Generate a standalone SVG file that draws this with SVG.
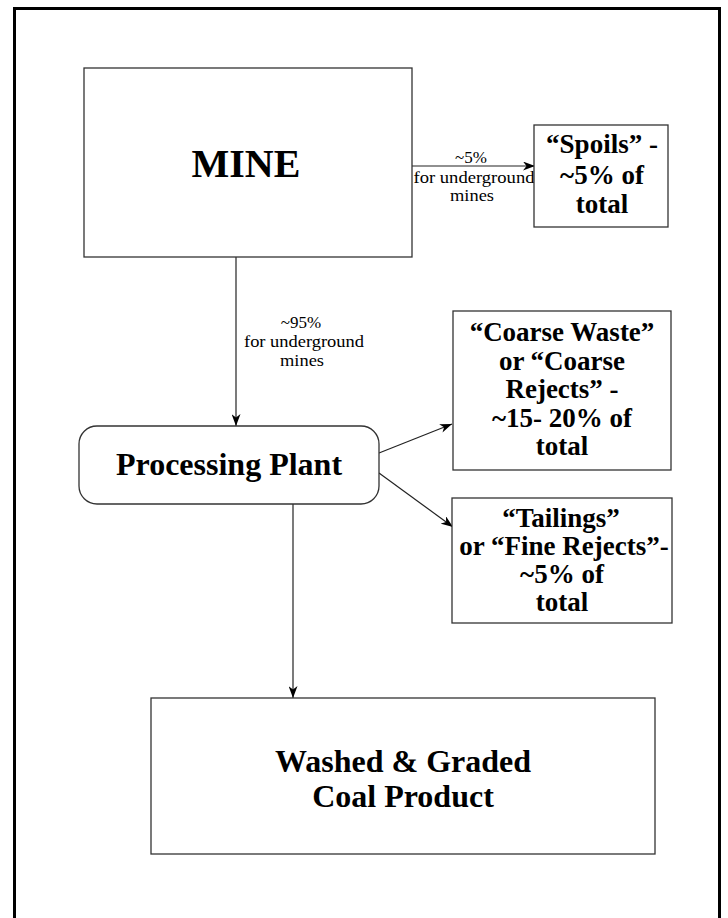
<svg xmlns="http://www.w3.org/2000/svg" width="728" height="918" viewBox="0 0 728 918">
<style>
.box{fill:#fff;stroke:#333;stroke-width:1.3}
.con{fill:none;stroke:#222;stroke-width:1.2}
.big{font-family:"Liberation Serif","Times New Roman",serif;font-weight:bold;fill:#000;text-anchor:middle}
.lbl{font-family:"Liberation Serif","Times New Roman",serif;font-size:17px;fill:#000;text-anchor:middle}
</style>
<defs>
<marker id="ah" markerUnits="userSpaceOnUse" markerWidth="12" markerHeight="9" refX="12" refY="4.5" orient="auto">
<path d="M0,0 L12,4.5 L0,9 L3.5,4.5 z" fill="#000"/>
</marker>
</defs>
<rect x="14.5" y="8.5" width="705" height="930" fill="#fff" stroke="#000" stroke-width="3"/>
<g id="connectors">
<line class="con" x1="412" y1="166" x2="535" y2="166" marker-end="url(#ah)"/>
<line class="con" x1="236" y1="257" x2="236" y2="426" marker-end="url(#ah)"/>
<line class="con" x1="379" y1="453" x2="452" y2="424" marker-end="url(#ah)"/>
<line class="con" x1="379" y1="473" x2="453" y2="527" marker-end="url(#ah)"/>
<line class="con" x1="293" y1="504" x2="293" y2="698" marker-end="url(#ah)"/>
<text class="lbl" x="471" y="163">~5%</text>
<text class="lbl" x="474" y="183" textLength="121" lengthAdjust="spacingAndGlyphs">for underground</text>
<text class="lbl" x="472" y="201" textLength="44" lengthAdjust="spacingAndGlyphs">mines</text>
<text class="lbl" x="301" y="328">~95%</text>
<text class="lbl" x="304" y="347" textLength="120" lengthAdjust="spacingAndGlyphs">for underground</text>
<text class="lbl" x="302" y="366" textLength="44" lengthAdjust="spacingAndGlyphs">mines</text>
</g>
<g id="mine">
<rect class="box" x="84" y="68" width="328" height="189"/>
<text class="big" x="246" y="177" font-size="40">MINE</text>
</g>
<g id="spoils">
<rect class="box" x="534" y="125" width="134" height="102"/>
<text class="big" font-size="27"><tspan x="602" y="153">“Spoils” -</tspan><tspan x="602" y="184">~5% of</tspan><tspan x="602" y="213">total</tspan></text>
</g>
<g id="processing">
<rect class="box" x="79" y="426" width="300" height="78" rx="18" ry="18"/>
<text class="big" x="229" y="475" font-size="32">Processing Plant</text>
</g>
<g id="coarse">
<rect class="box" x="453" y="311" width="218" height="159"/>
<text class="big" font-size="27"><tspan x="562" y="341">“Coarse Waste”</tspan><tspan x="562" y="370">or “Coarse</tspan><tspan x="562" y="398">Rejects” -</tspan><tspan x="562" y="427">~15- 20% of</tspan><tspan x="562" y="455">total</tspan></text>
</g>
<g id="tailings">
<rect class="box" x="452" y="498" width="220" height="125"/>
<text class="big" font-size="27"><tspan x="561" y="527">“Tailings”</tspan><tspan x="564" y="555">or “Fine Rejects”-</tspan><tspan x="562" y="583">~5% of</tspan><tspan x="562" y="611">total</tspan></text>
</g>
<g id="washed">
<rect class="box" x="151" y="698" width="504" height="156"/>
<text class="big" font-size="32"><tspan x="403" y="772">Washed &amp; Graded</tspan><tspan x="403" y="807">Coal Product</tspan></text>
</g>
</svg>
